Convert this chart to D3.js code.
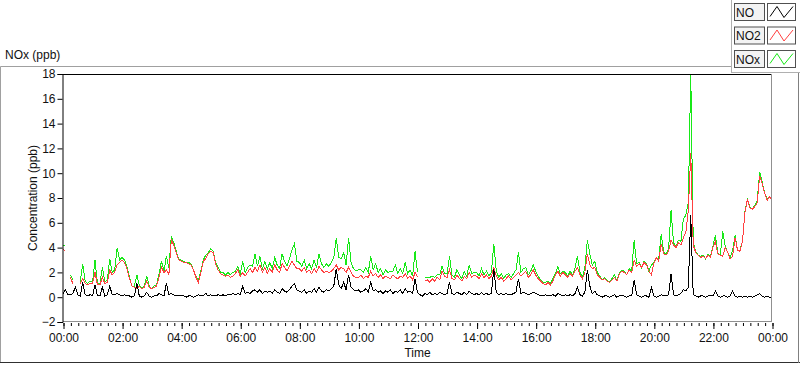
<!DOCTYPE html>
<html>
<head>
<meta charset="utf-8">
<script src="https://cdn.jsdelivr.net/npm/d3@7"></script>
<style>
  body { margin: 0; background: #fff; }
  text { font-family: "Liberation Sans", Arial, sans-serif; fill: #111; }
</style>
</head>
<body>
<div id="chart"></div>
<script>
// readings every 5 minutes from 00:00 to 24:00, one row per hour (null = no data)
const no2 = [
  3.9,3.7,null,1.6,1.1,null,null,1.1,1.5,1.1,1.0,1.1,
  1.1,2.0,1.0,1.0,1.6,1.1,1.2,2.2,1.8,2.0,2.6,2.8,
  3.0,2.8,2.3,1.5,0.9,0.8,0.7,0.9,0.7,0.8,1.3,0.8,
  0.7,0.8,0.9,1.6,2.4,2.0,2.2,1.8,4.6,4.2,3.6,3.0,
  2.9,2.8,2.8,2.7,2.6,2.2,1.6,1.2,2.0,2.9,3.1,3.5,
  3.7,3.6,2.7,2.2,1.9,1.8,1.7,1.8,1.6,1.7,1.9,2.2,
  1.7,2.0,1.7,2.0,2.3,2.0,2.4,2.1,2.6,2.0,2.4,1.9,
  2.3,2.0,2.6,2.2,2.0,2.7,2.4,2.1,2.5,2.9,2.6,2.3,
  2.3,2.1,2.4,2.0,2.2,1.9,2.3,2.0,2.5,2.2,2.0,2.1,
  2.0,2.1,2.3,2.6,2.2,2.4,2.3,2.0,2.4,2.0,1.7,1.6,
  1.6,1.8,1.5,1.7,1.6,2.1,1.7,1.9,1.6,1.8,1.5,1.7,
  1.6,1.5,1.8,1.6,1.5,1.7,1.6,1.9,1.5,1.7,1.4,2.0,
  1.6,null,null,1.3,1.4,1.2,1.5,1.3,1.6,1.4,2.1,1.7,
  1.6,2.2,1.5,1.4,1.8,1.5,1.3,1.7,1.5,2.0,1.6,1.8,
  1.7,1.5,1.9,1.6,1.8,1.5,1.7,2.4,1.7,1.4,1.6,1.3,
  1.5,1.7,1.4,1.6,1.8,2.0,1.7,1.9,2.1,1.6,1.8,2.2,
  1.8,1.5,1.3,1.1,1.0,1.2,1.0,1.3,1.8,2.1,1.7,2.0,
  1.8,1.6,1.9,1.7,2.1,2.4,1.8,1.5,2.0,3.5,2.6,2.3,
  2.4,1.8,1.6,1.4,1.5,1.3,1.2,1.4,1.6,1.3,1.9,2.1,
  2.0,1.8,2.2,2.0,3.0,2.5,2.7,2.4,2.8,2.6,2.1,1.8,
  2.7,3.2,2.9,4.3,3.5,3.4,3.7,4.6,4.2,4.0,4.4,4.2,
  4.8,5.2,7.0,11.6,4.2,3.6,3.4,3.2,3.3,3.1,3.4,3.2,
  4.0,4.5,3.5,3.4,3.3,4.0,3.6,3.1,3.3,4.8,3.8,3.7,
  4.5,6.8,7.9,7.2,7.1,7.3,7.6,9.8,9.2,8.4,7.8,8.1,
  7.8
];

const no = [
  0.3,0.6,0.2,0.2,0.3,0.8,0.2,0.1,1.2,0.2,0.1,0.2,
  0.1,1.0,0.1,0.1,0.8,0.1,0.2,0.9,0.2,0.2,0.3,0.2,
  0.1,0.2,0.1,0.1,0.0,0.1,1.1,0.1,0.0,0.1,0.4,0.1,
  0.0,0.1,0.1,0.3,0.2,0.1,1.1,0.2,0.3,0.2,0.1,0.1,
  0.1,0.1,0.0,0.1,0.1,0.0,0.1,0.2,0.1,0.1,0.3,0.1,
  0.2,0.1,0.1,0.2,0.1,0.2,0.1,0.2,0.2,0.3,0.2,0.3,
  0.2,0.9,0.3,0.4,0.3,0.5,0.6,0.4,0.6,0.3,0.5,0.4,
  0.5,0.3,0.6,0.4,0.3,0.7,0.5,0.4,0.6,0.9,1.1,0.6,
  0.5,0.4,0.6,0.3,0.5,0.4,0.7,0.4,0.8,0.5,0.4,0.6,
  0.5,0.7,0.9,2.3,1.0,0.7,1.2,0.6,1.8,0.8,0.6,0.5,
  0.6,0.4,0.5,0.7,0.4,1.2,0.5,0.6,0.4,0.5,0.3,0.5,
  0.4,0.6,0.3,0.5,0.4,0.6,0.3,0.7,0.4,0.5,0.3,1.5,
  0.4,0.2,0.1,0.3,0.2,0.4,0.2,0.3,0.2,0.4,0.3,0.2,
  0.3,1.2,0.3,0.2,0.4,0.3,0.2,0.4,0.2,0.5,0.3,0.2,
  0.3,0.2,0.4,0.2,0.3,0.2,0.3,2.3,0.4,0.2,0.3,0.2,
  0.3,0.2,0.2,0.3,0.4,1.5,0.3,0.4,0.3,0.2,0.3,0.4,
  0.3,0.2,0.1,0.1,0.2,0.1,0.1,0.2,0.1,0.3,0.2,0.1,
  0.2,0.1,0.2,0.1,0.3,0.8,0.2,0.1,0.4,2.2,0.9,0.3,
  0.5,0.2,0.1,0.0,0.1,0.1,0.0,0.1,0.2,0.0,0.1,0.1,
  0.1,0.0,0.1,0.1,1.4,0.2,0.1,0.0,0.1,0.1,0.0,0.8,
  0.1,0.0,0.1,0.2,0.1,0.1,0.2,1.9,0.2,0.1,0.2,0.3,
  0.6,0.5,0.8,6.6,0.2,0.1,0.0,0.1,0.1,0.0,0.1,0.1,
  0.1,0.5,0.1,0.0,0.1,0.1,0.0,0.1,0.5,0.1,0.0,0.1,
  0.0,0.1,0.0,0.1,0.0,0.1,0.2,0.3,0.1,0.0,0.1,0.0,
  0.0
];

const nox = [
  4.2,4.1,null,1.8,1.4,null,null,1.2,2.7,1.3,1.1,1.3,
  1.2,3.0,1.1,1.1,2.4,1.2,1.4,3.1,2.0,2.2,4.0,3.0,
  3.2,3.0,2.4,1.6,0.9,0.9,1.8,1.0,0.7,0.9,1.7,0.9,
  0.7,0.9,1.0,1.9,2.9,2.1,3.3,2.4,4.9,4.4,3.7,3.1,
  3.0,2.9,2.8,2.8,2.7,2.2,1.7,1.4,2.1,3.0,3.4,3.6,
  3.9,3.7,2.8,2.4,2.0,2.0,1.8,2.0,1.8,2.0,2.1,2.5,
  1.9,2.9,2.0,2.4,2.6,2.5,3.5,2.5,3.3,2.3,2.9,2.3,
  2.8,2.3,3.2,2.6,2.3,3.5,2.9,2.5,3.1,3.8,4.3,2.9,
  2.8,2.5,3.0,2.3,2.7,2.3,3.0,2.4,3.5,2.7,2.4,2.7,
  2.5,2.8,3.2,4.8,3.2,3.1,3.6,2.6,4.8,2.8,2.3,2.1,
  2.2,2.2,2.0,2.4,2.0,3.3,2.2,2.7,2.0,2.3,1.8,2.2,
  2.0,2.1,2.1,2.6,1.9,2.3,1.9,2.8,1.9,2.2,1.7,3.7,
  2.0,null,null,1.6,1.6,1.6,1.7,1.6,1.8,1.8,2.5,1.9,
  1.9,3.3,1.8,1.6,2.2,1.8,1.5,2.1,1.7,2.6,1.9,2.0,
  2.0,1.7,2.3,1.8,2.1,1.7,2.0,4.3,2.1,1.6,1.9,1.5,
  1.8,1.9,1.6,1.9,2.2,3.6,2.0,2.3,2.4,1.8,2.1,2.6,
  2.1,1.7,1.4,1.2,1.2,1.3,1.1,1.5,1.9,2.5,1.9,2.1,
  2.0,1.7,2.1,1.8,2.4,3.3,2.0,1.6,2.4,4.6,3.5,2.6,
  2.9,2.0,1.7,1.4,1.6,1.4,1.2,1.5,1.8,1.3,2.0,2.2,
  2.1,1.8,2.3,2.1,4.6,2.7,2.8,2.4,2.9,2.7,2.1,2.6,
  2.8,3.2,3.1,5.1,3.6,3.5,3.9,7.0,4.4,4.1,4.6,4.5,
  6.3,6.6,7.6,18.0,4.5,3.7,3.4,3.3,3.4,3.1,3.5,3.3,
  4.1,5.0,3.6,3.4,5.3,4.1,3.6,3.2,3.8,5.0,3.8,3.8,
  4.5,6.9,7.9,7.3,7.1,7.4,7.8,10.1,9.3,8.4,7.9,8.1,
  7.8
];

const seriesNames = ["NO", "NO2", "NOx"];
const seriesColors = ["#000000", "#ff4040", "#18e818"];
const yTicks = [-2, 0, 2, 4, 6, 8, 10, 12, 14, 16, 18];
const stepMinutes = 5;
const dayStart = new Date(2020, 0, 1, 0, 0);

const W = 800, H = 365;
const margin = {top: 74, right: 28, bottom: 43, left: 63},
      width = W - margin.left - margin.right,
      height = H - margin.top - margin.bottom;

const root = d3.select("#chart").append("svg")
  .attr("width", W).attr("height", H);

// outer panel frame
root.append("line").attr("x1", 0.5).attr("x2", 731).attr("y1", 66.5).attr("y2", 66.5).attr("stroke", "#a0a0a0");
root.append("line").attr("x1", 0.5).attr("x2", 0.5).attr("y1", 66.5).attr("y2", 362).attr("stroke", "#a0a0a0");
root.append("line").attr("x1", 0).attr("x2", 800).attr("y1", 362.5).attr("y2", 362.5).attr("stroke", "#303030");
root.append("line").attr("x1", 798.5).attr("x2", 798.5).attr("y1", 0).attr("y2", 363).attr("stroke", "#808080");

// chart label
root.append("text").attr("x", 5).attr("y", 59).style("font-size", "12px").text("NOx (ppb)");

const svg = root.append("g").attr("transform", `translate(${margin.left},${margin.top})`);

const x = d3.scaleTime()
  .domain([dayStart, d3.timeDay.offset(dayStart, 1)])
  .range([0, width]);
const y = d3.scaleLinear().domain([-2, 18]).range([height, 0]);

const tOf = i => d3.timeMinute.offset(dayStart, i * stepMinutes);

// plot background
svg.append("rect").attr("width", width).attr("height", height).attr("fill", "#fff");

const line = d3.line()
  .defined(d => d != null)
  .x((d, i) => x(tOf(i)))
  .y(d => y(d));

// draw NOx, then NO2, then NO on top
[[nox, 2], [no2, 1], [no, 0]].forEach(([vals, k]) => {
  svg.append("path")
    .datum(vals)
    .attr("d", line)
    .attr("fill", "none")
    .attr("stroke", seriesColors[k])
    .attr("stroke-width", 1)
    .attr("shape-rendering", "crispEdges");
});

// plot frame: dark top/left, grey bottom/right
svg.append("line").attr("x1", 0).attr("x2", width).attr("y1", 0.5).attr("y2", 0.5).attr("stroke", "#000");
svg.append("line").attr("x1", width - 0.5).attr("x2", width - 0.5).attr("y1", 0).attr("y2", height).attr("stroke", "#909090");
svg.append("line").attr("x1", 0).attr("x2", width).attr("y1", height - 0.5).attr("y2", height - 0.5).attr("stroke", "#909090");

// Y axis
const yAxis = svg.append("g")
  .attr("transform", "translate(-0.5,0)")
  .call(d3.axisLeft(y).tickValues(yTicks).tickSize(5).tickPadding(2));
yAxis.select(".domain").attr("stroke", "#000");
yAxis.selectAll("text").style("font-size", "12px").attr("fill", "#111");

// X axis: minor ticks every 15 min, major every 2 h
const xMinor = svg.append("g")
  .attr("transform", `translate(0.5,${height + 1})`)
  .call(d3.axisBottom(x).ticks(d3.timeMinute.every(15)).tickSize(3).tickFormat(""));
xMinor.select(".domain").remove();

const xAxis = svg.append("g")
  .attr("transform", `translate(0.5,${height + 1})`)
  .call(d3.axisBottom(x).ticks(d3.timeHour.every(2)).tickSize(6).tickPadding(4)
    .tickFormat(d3.timeFormat("%H:%M")));
xAxis.select(".domain").remove();
xAxis.selectAll("text").style("font-size", "12px").attr("fill", "#111");

// axis titles
svg.append("text")
  .attr("x", width / 2).attr("y", height + 35)
  .attr("text-anchor", "middle").style("font-size", "12px").text("Time");

svg.append("text")
  .attr("transform", `translate(-26,${height / 2}) rotate(-90)`)
  .attr("text-anchor", "middle").style("font-size", "12px").text("Concentration (ppb)");

// legend panel at top right
const legend = root.append("g");
legend.append("rect").attr("x", 731.5).attr("y", -1).attr("width", 70).attr("height", 73.5)
  .attr("fill", "#fff").attr("stroke", "#b0b0b0");

const zig = d3.line();
seriesNames.forEach((name, i) => {
  const top = 3.5 + i * 23.5;
  legend.append("rect").attr("x", 734.5).attr("y", top).attr("width", 30).attr("height", 17)
    .attr("fill", "#f3f3f3").attr("stroke", "#505050");
  legend.append("text").attr("x", 736).attr("y", top + 13).style("font-size", "12px").text(name);
  legend.append("rect").attr("x", 767.5).attr("y", top).attr("width", 28).attr("height", 17)
    .attr("fill", "#fff").attr("stroke", "#505050");
  const gx = 769, gy = top + 2;
  legend.append("path")
    .attr("d", zig([[gx + 1, gy + 11], [gx + 8, gy + 1], [gx + 15, gy + 12], [gx + 24, gy + 1]]))
    .attr("fill", "none").attr("stroke", seriesColors[i]).attr("stroke-width", 1);
});
</script>
</body>
</html>
